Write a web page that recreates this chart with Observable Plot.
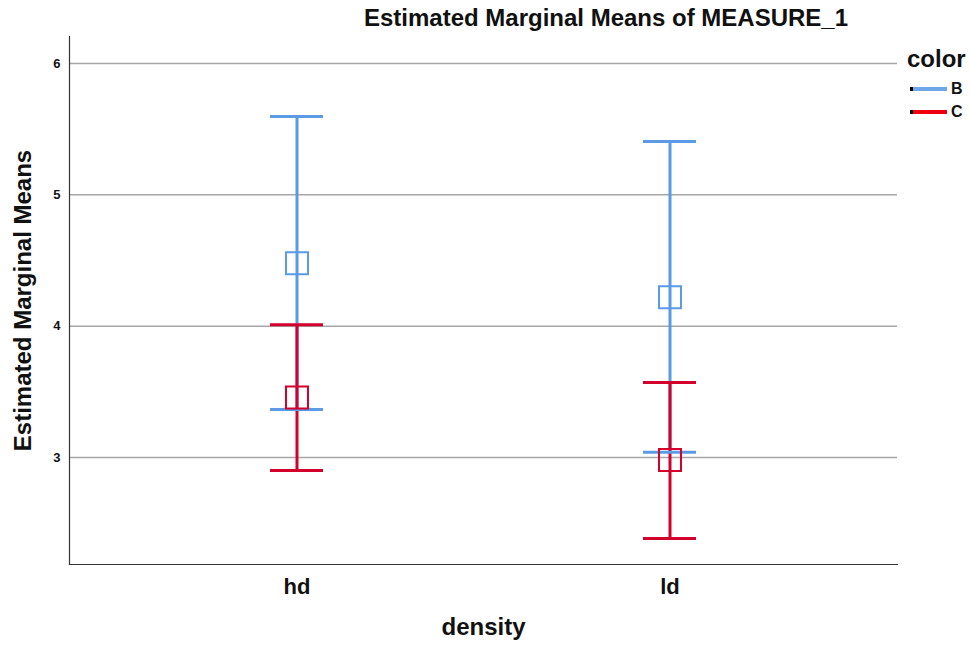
<!DOCTYPE html>
<html>
<head>
<meta charset="utf-8">
<script src="https://cdn.jsdelivr.net/npm/d3@7"></script>
<script src="https://cdn.jsdelivr.net/npm/@observablehq/plot@0.6"></script>
<style>
  html, body { margin: 0; padding: 0; background: #fff; }
  body { width: 970px; height: 646px; position: relative; overflow: hidden; font-family: "Liberation Sans", Arial, sans-serif; }
  #title { position: absolute; left: 0; top: 0; width: 970px; height: 36px; }
  #title span { position: absolute; left: 606px; top: 4px; transform: translateX(-50%); font-weight: bold; font-size: 24px; line-height: 28px; color: #111; white-space: nowrap; }
  #chart { position: absolute; left: 0; top: 36px; }
  #legend { position: absolute; left: 907px; top: 45px; font-weight: bold; color: #111; }
  #legend .hd { font-size: 24px; line-height: 28px; margin-bottom: 4px; }
  #legend .row { display: flex; align-items: center; height: 23px; font-size: 16px; margin-left: 3px; }
  #legend .sw { width: 34px; height: 4px; margin-right: 4px; border-left: 3px solid #000; }
</style>
</head>
<body>
<div id="title"><span>Estimated Marginal Means of MEASURE_1</span></div>
<div id="chart"></div>
<div id="legend"></div>
<script>
// Data
const densities = ["hd", "ld"];
const colorsCat = ["B", "C"];
const meansB = [4.48, 4.22];
const lowerB = [3.366, 3.04];
const upperB = [5.596, 5.406];
const meansC = [3.457, 2.98];
const lowerC = [2.90, 2.383];
const upperC = [4.01, 3.571];
const yTicks = [3, 4, 5, 6];
const lineColors = {B: "#5b9be6", C: "#d4002c"};
const legendColors = {B: "#6fa6ea", C: "#ee0010"};

const rows = [];
densities.forEach((d, i) => {
  rows.push({density: d, color: "B", mean: meansB[i], lo: lowerB[i], hi: upperB[i]});
});
densities.forEach((d, i) => {
  rows.push({density: d, color: "C", mean: meansC[i], lo: lowerC[i], hi: upperC[i]});
});

const colorScale = {domain: colorsCat, range: colorsCat.map(c => lineColors[c])};

const chart = Plot.plot({
  width: 970,
  height: 610,
  marginLeft: 69,
  marginRight: 73,
  marginTop: 0,
  marginBottom: 82,
  style: {fontFamily: "'Liberation Sans', Arial, sans-serif", color: "#111", background: "#fff"},
  x: {domain: densities, paddingInner: 0.858, paddingOuter: 0.536, align: 0.5, label: null},
  y: {domain: [2.185, 6.206], label: null},
  color: colorScale,
  marks: [
    Plot.ruleY(yTicks, {stroke: "#a6a6a6", strokeWidth: 1.5}),
    Plot.axisY({ticks: yTicks, tickFormat: "d", tickSize: 0, tickPadding: 9, fontSize: 13, fontWeight: "bold", label: null}),
    Plot.axisX({tickSize: 0, tickPadding: 14, fontSize: 22, fontWeight: "bold", label: null}),
    Plot.ruleX(rows, {x: "density", y1: "lo", y2: "hi", stroke: "color", strokeWidth: 3}),
    Plot.tickY(rows, {x: "density", y: "lo", stroke: "color", strokeWidth: 3}),
    Plot.tickY(rows, {x: "density", y: "hi", stroke: "color", strokeWidth: 3}),
    Plot.dot(rows, {x: "density", y: "mean", symbol: "square", r: 12.4, stroke: "color", strokeWidth: 2, fill: "none"}),
    Plot.frame({anchor: "left", stroke: "#333", strokeWidth: 1.2}),
    Plot.frame({anchor: "bottom", stroke: "#333", strokeWidth: 1.2}),
    Plot.text(["density"], {frameAnchor: "bottom", dy: 70, fontSize: 24, fontWeight: "bold", fill: "#111"}),
    Plot.text(["Estimated Marginal Means"], {frameAnchor: "left", textAnchor: "middle", dx: -46, rotate: -90, fontSize: 24, fontWeight: "bold", fill: "#111"})
  ]
});
document.getElementById("chart").appendChild(chart);

// Legend
const leg = document.getElementById("legend");
const h = document.createElement("div");
h.className = "hd";
h.textContent = "color";
leg.appendChild(h);
colorsCat.forEach(c => {
  const r = document.createElement("div");
  r.className = "row";
  const s = document.createElement("span");
  s.className = "sw";
  s.style.background = legendColors[c];
  r.appendChild(s);
  const t = document.createElement("span");
  t.textContent = c;
  r.appendChild(t);
  leg.appendChild(r);
});
</script>
</body>
</html>
